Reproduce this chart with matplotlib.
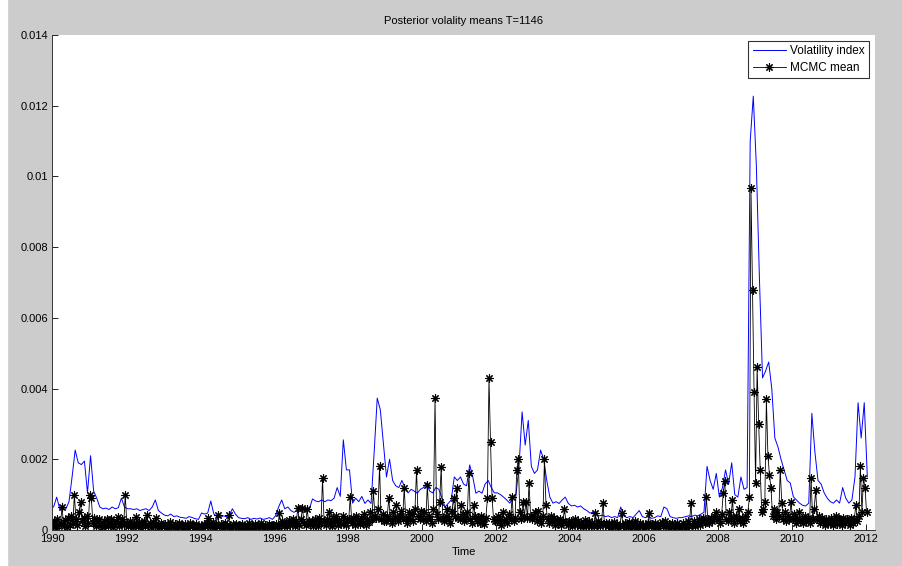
import numpy as np
import matplotlib.pyplot as plt
from matplotlib.patches import Rectangle

plt.rcParams['font.family'] = ['Liberation Sans', 'DejaVu Sans']

# ── Values (units of 1e-4) ─────────────────────────────────────────────────

# volatility index, one value per month
vol_index = [
    6.5, 9.3, 6.0, 5.7, 6.0, 8.0, 15.0, 22.6, 19.0, 18.5, 19.5, 10.5,      # 1990
    21.0, 11.0, 9.0, 6.5, 6.0, 6.2, 5.8, 6.5, 6.0, 6.3, 9.0, 6.5,          # 1991
    6.0, 6.0, 5.8, 6.0, 5.5, 5.8, 6.0, 5.5, 6.5, 8.5, 5.5, 4.8,            # 1992
    4.2, 4.0, 4.5, 3.8, 4.0, 3.6, 3.5, 3.3, 3.8, 3.5, 3.2, 3.0,            # 1993
    4.8, 4.5, 4.8, 8.2, 4.5, 3.8, 3.5, 4.0, 3.8, 4.2, 6.0, 4.5,            # 1994
    3.5, 3.3, 3.2, 3.5, 3.0, 3.3, 3.1, 3.4, 3.0, 3.2, 3.5, 3.0,            # 1995
    4.0, 6.5, 8.5, 6.0, 6.5, 5.5, 5.0, 5.5, 6.5, 5.0, 5.5, 6.0,            # 1996
    8.8, 8.2, 8.0, 8.5, 8.0, 8.5, 8.3, 9.0, 12.0, 9.5, 25.5, 17.0,         # 1997
    17.0, 7.6, 9.0, 8.0, 9.5, 7.5, 8.5, 7.5, 22.0, 37.3, 34.0, 24.6,       # 1998
    15.0, 20.0, 14.0, 12.5, 12.0, 14.0, 12.0, 10.5, 11.5, 11.0, 10.4, 11.5,  # 1999
    12.0, 13.3, 11.0, 10.5, 12.0, 11.5, 9.0, 6.5, 7.5, 8.5, 15.0, 14.0,    # 2000
    15.0, 13.0, 12.5, 18.4, 15.0, 10.4, 11.0, 10.4, 13.0, 14.0, 12.0, 10.5,  # 2001
    10.5, 10.0, 9.3, 8.5, 7.6, 9.0, 10.0, 18.0, 33.4, 24.0, 31.0, 18.0,    # 2002
    16.0, 17.0, 22.6, 20.0, 14.0, 9.3, 7.6, 8.0, 7.5, 8.5, 9.3, 7.5,       # 2003
    6.8, 7.0, 6.5, 6.8, 6.0, 5.5, 4.8, 5.0, 4.5, 4.0, 4.2, 3.8,            # 2004
    4.0, 3.5, 3.8, 3.5, 6.5, 4.0, 3.5, 3.8, 3.5, 4.5, 5.5, 3.8,            # 2005
    3.5, 3.8, 3.3, 3.5, 4.0, 3.8, 6.5, 6.0, 3.8, 3.5, 3.3, 3.5,            # 2006
    3.5, 3.8, 4.0, 3.8, 4.2, 4.0, 4.5, 5.0, 18.0, 14.0, 11.5, 16.0,        # 2007
    9.3, 12.0, 17.0, 13.0, 19.0, 10.0, 9.3, 15.0, 11.5, 12.0, 110.0, 122.7,  # 2008
    103.0, 71.0, 43.0, 45.0, 47.5, 40.0, 26.0, 23.5, 20.0, 17.0, 14.0, 13.3,  # 2009
    9.4, 8.5, 7.6, 7.0, 6.8, 7.6, 33.0, 22.0, 14.0, 13.0, 10.5, 9.0,       # 2010
    8.0, 7.6, 8.5, 7.6, 12.0, 9.0, 7.6, 8.5, 15.0, 36.0, 26.0, 36.0,       # 2011
    15.0,
]

# MCMC posterior mean, two values per month
mcmc_mean = [
    1.0, 2.5, 0.5, 3.0, 1.5, 2.0, 6.5, 1.2, 2.8, 0.8, 3.5, 1.5,            # 1990
    4.0, 2.0, 10.0, 3.0, 1.5, 5.0, 7.8, 2.5, 3.5, 1.2, 4.0, 2.0,
    10.0, 9.0, 2.0, 3.5, 1.0, 2.5, 3.0, 1.5, 0.8, 2.5, 1.5, 3.0,           # 1991
    1.0, 2.0, 3.2, 0.8, 1.8, 2.5, 3.8, 1.2, 2.0, 3.0, 1.5, 10.0,
    2.0, 1.0, 2.5, 1.5, 0.8, 2.0, 3.7, 1.2, 2.2, 0.7, 1.8, 2.5,            # 1992
    1.0, 4.2, 1.5, 2.0, 0.8, 2.2, 1.2, 3.3, 1.5, 0.8, 2.0, 1.2,
    1.0, 1.8, 0.5, 1.5, 2.2, 0.8, 1.2, 1.8, 0.6, 1.4, 2.0, 0.9,            # 1993
    1.5, 0.5, 1.8, 1.2, 0.7, 2.0, 1.0, 1.5, 0.6, 1.6, 1.1, 0.8,
    1.2, 0.6, 1.8, 1.0, 2.0, 3.3, 0.8, 1.5, 2.2, 0.7, 1.4, 4.2,            # 1994
    1.0, 1.8, 0.6, 1.5, 2.0, 0.9, 4.2, 1.2, 0.7, 1.6, 1.0, 1.8,
    0.8, 1.4, 0.5, 1.8, 1.0, 0.6, 1.5, 2.0, 0.8, 1.2, 0.5, 1.7,            # 1995
    1.0, 1.4, 0.7, 2.0, 1.1, 0.6, 1.5, 0.9, 1.8, 0.7, 1.2, 1.5,
    1.0, 1.8, 0.7, 4.8, 1.5, 2.5, 1.0, 2.0, 1.2, 2.8, 1.5, 2.0,            # 1996
    3.0, 1.2, 2.5, 6.2, 1.5, 3.0, 6.2, 2.0, 1.5, 5.8, 2.5, 1.8,
    2.5, 1.2, 3.0, 1.8, 1.0, 3.5, 2.0, 14.7, 2.5, 1.5, 3.0, 5.0,           # 1997
    2.0, 1.2, 3.5, 2.5, 4.0, 1.5, 2.8, 1.8, 4.0, 2.2, 1.5, 3.0,
    3.0, 9.4, 2.0, 3.5, 1.5, 4.0, 2.5, 1.8, 3.5, 2.0, 4.5, 1.5,            # 1998
    3.0, 2.2, 5.0, 3.0, 11.0, 4.0, 3.5, 6.0, 18.0, 3.0, 4.5, 2.5,
    2.5, 4.0, 9.0, 3.0, 2.0, 5.0, 3.5, 7.0, 2.5, 4.0, 5.5, 3.0,            # 1999
    12.0, 3.5, 2.0, 5.0, 3.0, 4.5, 2.5, 6.0, 17.0, 4.0, 3.0, 5.5,
    3.0, 5.0, 2.5, 12.7, 4.0, 3.0, 2.0, 6.0, 37.3, 4.5, 3.0, 8.0,          # 2000
    17.8, 3.5, 2.5, 4.0, 6.0, 3.0, 2.0, 5.5, 9.0, 4.0, 12.0, 3.5,
    3.0, 7.0, 4.5, 2.5, 3.5, 5.0, 16.0, 3.0, 2.0, 7.0, 4.0, 2.5,           # 2001
    3.5, 2.0, 4.0, 3.0, 1.8, 3.5, 9.0, 43.0, 25.0, 9.0, 3.0, 2.5,
    2.5, 4.0, 3.0, 1.5, 5.0, 2.5, 3.0, 2.0, 4.5, 3.0, 9.3, 2.5,            # 2002
    3.5, 17.0, 20.0, 5.0, 3.0, 8.0, 4.0, 8.0, 3.5, 13.3, 4.0, 3.0,
    4.0, 5.0, 2.5, 5.5, 3.0, 2.0, 4.0, 20.0, 7.0, 3.0, 2.0, 4.0,           # 2003
    2.5, 3.5, 1.5, 2.8, 2.0, 3.0, 1.5, 2.5, 6.0, 2.0, 1.5, 2.5,
    2.5, 1.0, 2.0, 3.0, 1.5, 2.5, 1.0, 2.0, 1.2, 2.8, 1.0, 1.5,            # 2004
    2.5, 1.0, 2.0, 1.2, 4.8, 1.5, 2.5, 1.0, 2.0, 7.5, 1.5, 2.0,
    1.0, 2.0, 0.8, 1.5, 2.2, 1.0, 1.8, 0.7, 1.5, 4.8, 1.2, 2.0,            # 2005
    0.8, 1.6, 2.2, 0.7, 1.8, 1.0, 2.5, 1.2, 0.8, 2.0, 1.2, 1.5,
    1.5, 0.8, 2.0, 4.8, 1.0, 1.8, 0.7, 2.0, 1.2, 0.6, 1.6, 2.2,            # 2006
    1.0, 2.5, 1.2, 0.8, 1.8, 1.0, 2.0, 0.6, 1.5, 2.0, 1.2, 0.8,
    1.0, 2.0, 1.5, 0.8, 2.5, 1.2, 7.5, 1.5, 2.5, 1.0, 2.0, 3.0,            # 2007
    1.5, 2.5, 3.5, 2.0, 9.4, 3.0, 2.0, 3.5, 2.5, 4.0, 5.0, 3.0,
    3.0, 2.0, 4.5, 10.4, 14.0, 3.0, 2.5, 5.0, 3.5, 8.5, 2.0, 4.0,          # 2008
    3.0, 6.0, 2.5, 3.5, 2.0, 4.0, 3.0, 5.0, 9.3, 96.7, 68.0, 39.0,
    13.3, 46.0, 30.0, 17.0, 5.0, 6.0, 8.0, 37.0, 21.0, 15.6, 11.8, 4.0,    # 2009
    6.0, 3.0, 5.0, 4.0, 17.0, 7.6, 3.0, 5.0, 2.5, 4.0, 3.0, 8.0,
    3.0, 4.5, 2.0, 3.5, 5.0, 2.5, 3.0, 2.0, 4.0, 2.5, 3.5, 2.0,            # 2010
    14.7, 3.0, 6.0, 11.3, 3.0, 4.0, 2.0, 3.5, 2.5, 1.5, 3.0, 2.0,
    2.0, 3.5, 1.5, 2.5, 4.0, 1.8, 3.0, 2.5, 1.5, 3.5, 2.0, 3.0,            # 2011
    2.5, 1.5, 3.5, 2.0, 3.0, 7.0, 2.5, 4.0, 18.0, 5.0, 14.7, 12.0,
    5.0,
]

x_ticks = list(range(1990, 2013, 2))
y_ticks = [0, 0.002, 0.004, 0.006, 0.008, 0.010, 0.012, 0.014]
y_labels = ['0', '0.002', '0.004', '0.006', '0.008', '0.01', '0.012', '0.014']

vol = np.array(vol_index) * 1e-4
mcmc = np.array(mcmc_mean) * 1e-4
t_vol = 1990 + (np.arange(len(vol)) + 0.5) / 12
t_mcmc = 1990 + (np.arange(len(mcmc)) + 0.5) / 24

# ── Figure ─────────────────────────────────────────────────────────────────

fig = plt.figure(figsize=(9.02, 5.66), dpi=100, facecolor='#cccccc')
fig.patches.append(Rectangle((0, 0), 7 / 902, 1, transform=fig.transFigure,
                             color='white', zorder=-1))
ax = fig.add_axes([0.0577, 0.0636, 0.9124, 0.8746])

ax.plot(t_vol, vol, color='#0000ff', lw=0.7, label='Volatility index')
ax.plot(t_mcmc, mcmc, color='black', lw=0.6, marker=(8, 2, 0), markersize=6,
        mew=0.8, label='MCMC mean')

ax.set_xlim(1990, 2012.25)
ax.set_ylim(0, 0.014)
ax.set_xticks(x_ticks)
ax.set_yticks(y_ticks)
ax.set_yticklabels(y_labels)
ax.tick_params(direction='in', length=4, width=0.6, labelsize=8, pad=3)
for s in ['top', 'right']:
    ax.spines[s].set_visible(False)
for s in ['left', 'bottom']:
    ax.spines[s].set_color('#333333')
    ax.spines[s].set_linewidth(0.7)

ax.set_title('Posterior volality means T=1146', fontsize=8, pad=8)
ax.set_xlabel('Time', fontsize=8, labelpad=2)

leg = ax.legend(loc='upper right', fontsize=8.5, fancybox=False,
                edgecolor='black', handlelength=2.8, borderaxespad=0.5,
                borderpad=0.35, labelspacing=0.4, handletextpad=0.4)
leg.get_frame().set_linewidth(0.8)

plt.savefig('out.png', dpi=100, facecolor=fig.get_facecolor())
